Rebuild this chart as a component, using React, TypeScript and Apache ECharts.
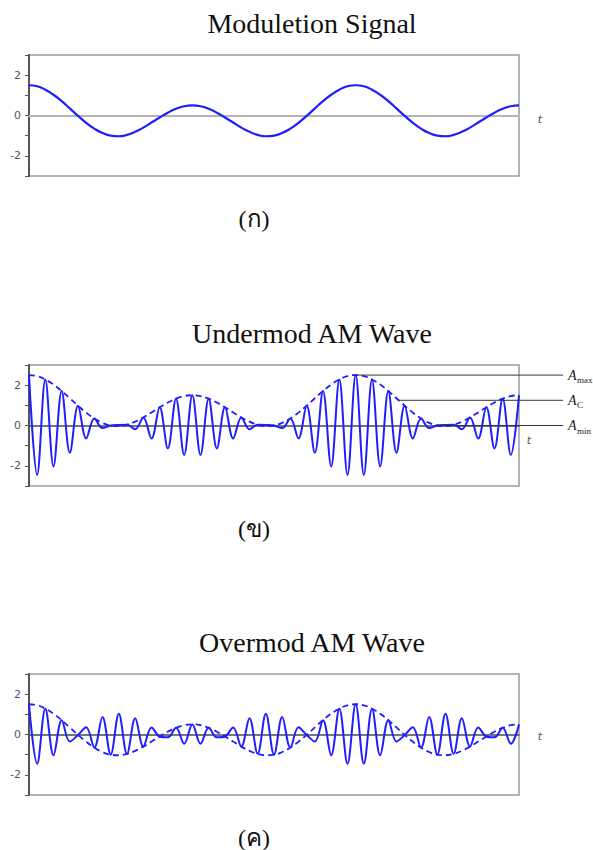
import { useEffect, useRef } from "react";
import * as echarts from "echarts";

// Samples are taken once per half carrier cycle: 61 samples span 1.5 periods of m(t).

// Modulating signal m(t)
const modulation = [
  1.5, 1.45, 1.28, 1.03, 0.71, 0.35, -0.02, -0.36, -0.65, -0.87, -1.0, -1.03, -0.96, -0.81, -0.6, -0.35,
  -0.1, 0.14, 0.33, 0.46, 0.5, 0.46, 0.33, 0.14, -0.1, -0.35, -0.6, -0.81, -0.96, -1.03, -1.0, -0.87,
  -0.65, -0.36, -0.02, 0.35, 0.71, 1.03, 1.28, 1.45, 1.5, 1.45, 1.28, 1.03, 0.71, 0.35, -0.02, -0.36,
  -0.65, -0.87, -1.0, -1.03, -0.96, -0.81, -0.6, -0.35, -0.1, 0.14, 0.33, 0.46, 0.5,
];

// Under-modulated AM: envelope and carrier peaks/troughs
const undermodEnvelope = [
  2.5, 2.45, 2.28, 2.03, 1.71, 1.35, 0.98, 0.64, 0.35, 0.13, 0, -0.03, 0.04, 0.19, 0.4, 0.65,
  0.9, 1.14, 1.33, 1.46, 1.5, 1.46, 1.33, 1.14, 0.9, 0.65, 0.4, 0.19, 0.04, -0.03, 0, 0.13,
  0.35, 0.64, 0.98, 1.35, 1.71, 2.03, 2.28, 2.45, 2.5, 2.45, 2.28, 2.03, 1.71, 1.35, 0.98, 0.64,
  0.35, 0.13, 0, -0.03, 0.04, 0.19, 0.4, 0.65, 0.9, 1.14, 1.33, 1.46, 1.5,
];
const undermodCarrier = [
  2.5, -2.45, 2.28, -2.03, 1.71, -1.35, 0.98, -0.64, 0.35, -0.13, 0, 0.03, 0.04, -0.19, 0.4, -0.65,
  0.9, -1.14, 1.33, -1.46, 1.5, -1.46, 1.33, -1.14, 0.9, -0.65, 0.4, -0.19, 0.04, 0.03, 0, -0.13,
  0.35, -0.64, 0.98, -1.35, 1.71, -2.03, 2.28, -2.45, 2.5, -2.45, 2.28, -2.03, 1.71, -1.35, 0.98, -0.64,
  0.35, -0.13, 0, 0.03, 0.04, -0.19, 0.4, -0.65, 0.9, -1.14, 1.33, -1.46, 1.5,
];

// Over-modulated AM: carrier peaks/troughs (envelope is m(t) itself)
const overmodCarrier = [
  1.5, -1.45, 1.28, -1.03, 0.71, -0.35, -0.02, 0.36, -0.65, 0.87, -1.0, 1.03, -0.96, 0.81, -0.6, 0.35,
  -0.1, -0.14, 0.33, -0.46, 0.5, -0.46, 0.33, -0.14, -0.1, 0.35, -0.6, 0.81, -0.96, 1.03, -1.0, 0.87,
  -0.65, 0.36, -0.02, -0.35, 0.71, -1.03, 1.28, -1.45, 1.5, -1.45, 1.28, -1.03, 0.71, -0.35, -0.02, 0.36,
  -0.65, 0.87, -1.0, 1.03, -0.96, 0.81, -0.6, 0.35, -0.1, -0.14, 0.33, -0.46, 0.5,
];

// Amplitude markers on the under-modulated wave
const markerLabels = ["max", "C", "min"];
const markerLevels = [2.5, 1.25, 0];
const markerStart = [40, 45.3, 50];

const titles = ["Moduletion Signal", "Undermod AM Wave", "Overmod AM Wave"];
const captions = ["(ก)", "(ข)", "(ค)"];
const yTicks = [-2, 0, 2];

const BLUE = "#1e1eff";
const SERIF = "'Liberation Serif', 'Times New Roman', serif";
const SANS = "'DejaVu Sans', sans-serif";

const GRID_TOPS = [55, 365, 674];
const GRID_H = 121;
const GRID_LEFT = 29;
const GRID_W = 490;

const pairs = (values: number[]) => values.map((v, i) => [i, v]);

export default function App() {
  const ref = useRef<HTMLDivElement>(null);

  useEffect(() => {
    if (!ref.current) return;
    const chart = echarts.init(ref.current, undefined, { renderer: "svg" });

    const grid = GRID_TOPS.map((top) => ({
      left: GRID_LEFT,
      top,
      width: GRID_W,
      height: GRID_H,
      show: true,
      borderColor: "#9c9c9c",
      borderWidth: 1.5,
      backgroundColor: "#fff",
    }));

    const xAxis = GRID_TOPS.map((_, g) => ({
      type: "value" as const,
      gridIndex: g,
      min: 0,
      max: modulation.length - 1,
      axisLabel: { show: false },
      axisTick: { show: false },
      splitLine: { show: false },
      axisLine: {
        onZero: true,
        lineStyle: { color: g === 0 ? "#b5b5b5" : "#4a4a4a", width: g === 0 ? 2 : 1.5 },
      },
    }));

    const yAxis = GRID_TOPS.map((_, g) => ({
      type: "value" as const,
      gridIndex: g,
      min: -3,
      max: 3,
      interval: 1,
      splitLine: { show: false },
      axisLine: { show: true, onZero: false, lineStyle: { color: "#555", width: 2 } },
      axisTick: { show: true, length: 4, lineStyle: { color: "#555", width: 1 } },
      axisLabel: {
        color: "#555",
        fontSize: 11,
        fontFamily: SANS,
        margin: 8,
        formatter: (v: number) => (yTicks.includes(v) ? String(v) : ""),
      },
    }));

    const line = (g: number, data: number[], dashed: boolean, smooth: number, width: number) => ({
      type: "line" as const,
      xAxisIndex: g,
      yAxisIndex: g,
      data: pairs(data),
      smooth,
      showSymbol: false,
      silent: true,
      lineStyle: { color: BLUE, width, type: dashed ? [6, 4] : "solid" },
    });

    chart.setOption({
      animation: false,
      grid,
      xAxis,
      yAxis,
      series: [
        line(0, modulation, false, 0.5, 2.2),
        line(1, undermodEnvelope, true, 0.5, 1.8),
        line(1, undermodCarrier, false, 0.36, 2),
        line(2, modulation, true, 0.5, 1.8),
        line(2, overmodCarrier, false, 0.36, 2),
      ],
    });

    const graphic: any[] = [];
    titles.forEach((t, g) => {
      graphic.push({
        type: "text",
        x: 312,
        y: GRID_TOPS[g] - 32,
        style: { text: t, font: `28px ${SERIF}`, fill: "#111", align: "center", verticalAlign: "middle" },
      });
      graphic.push({
        type: "text",
        x: 254,
        y: GRID_TOPS[g] + GRID_H + 43,
        style: { text: captions[g], font: `24px ${SERIF}`, fill: "#111", align: "center", verticalAlign: "middle" },
      });
    });

    const tPos = [
      [540, 119],
      [529, 440],
      [540, 736],
    ];
    tPos.forEach(([x, y]) => {
      graphic.push({
        type: "text",
        x,
        y,
        style: { text: "t", font: `italic 11px ${SANS}`, fill: "#555", align: "center", verticalAlign: "middle" },
      });
    });

    const lineEnd = 563;
    markerLevels.forEach((lvl, k) => {
      const [x0, y0] = chart.convertToPixel({ gridIndex: 1 }, [markerStart[k], lvl]) as number[];
      graphic.push({
        type: "line",
        shape: { x1: x0, y1: y0, x2: lineEnd, y2: y0 },
        style: { stroke: "#333", lineWidth: 1 },
        z: 10,
      });
      graphic.push({
        type: "text",
        x: lineEnd + 5,
        y: y0,
        style: { text: "A", font: `italic 14px ${SERIF}`, fill: "#222", align: "left", verticalAlign: "middle" },
        z: 10,
      });
      graphic.push({
        type: "text",
        x: lineEnd + 14,
        y: y0 + 5,
        style: { text: markerLabels[k], font: `9px ${SERIF}`, fill: "#222", align: "left", verticalAlign: "middle" },
        z: 10,
      });
    });

    chart.setOption({ graphic });

    return () => chart.dispose();
  }, []);

  return (
    <div
      ref={ref}
      style={{ position: "fixed", left: 0, top: 0, width: 593, height: 850, background: "#fff" }}
    />
  );
}
